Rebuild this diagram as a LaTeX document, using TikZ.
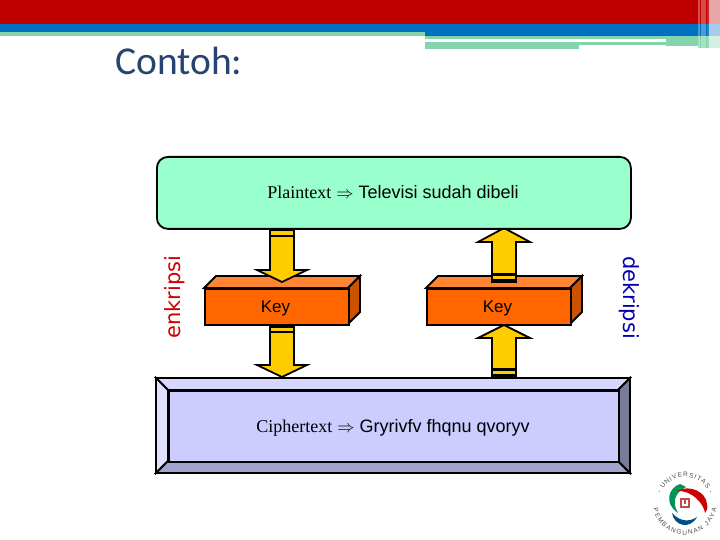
\documentclass[tikz,border=0pt]{standalone}
\usepackage{fontspec}
\setmainfont{Liberation Sans}
\newfontfamily\seriffont{Liberation Serif}
\newfontfamily\titlefont{Carlito}
\newfontfamily\labelfont{DejaVu Sans}
\usetikzlibrary{decorations.text}
\definecolor{hdrred}{HTML}{C00000}
\definecolor{hdrblue}{HTML}{0070C0}
\definecolor{hdrmint}{HTML}{85D5AC}
\definecolor{hdrteal}{HTML}{007A6A}
\definecolor{plainfill}{HTML}{99FFCC}
\definecolor{keyfront}{HTML}{FF6600}
\definecolor{keytop}{HTML}{FF8533}
\definecolor{keyside}{HTML}{CC5200}
\definecolor{arrowfill}{HTML}{FFCC00}
\definecolor{ciphermid}{HTML}{CCCCFF}
\definecolor{ciphertop}{HTML}{D6D6FF}
\definecolor{cipherleft}{HTML}{E0E0FF}
\definecolor{cipherbot}{HTML}{A3A3CC}
\definecolor{cipherright}{HTML}{7A7A99}
\definecolor{titleblue}{HTML}{254570}
\newcommand{\logotextstyle}{\fontsize{6.5}{7}\selectfont\color{black!70}}
\tikzset{
  outline/.style={draw=black,line width=1.8pt,line join=miter},
  keylabel/.style={font=\fontsize{17}{20}\selectfont,text=black,inner sep=0pt},
  boxtext/.style={font=\fontsize{18}{20}\selectfont,text=black,inner sep=0pt},
  sidelabel/.style={font=\labelfont\fontsize{21}{24}\selectfont,inner sep=0pt},
}
\newcommand{\keybox}[2]{%
  \fill[keytop,outline] (#1,288) -- (#1+12,276) -- (#1+156,276) -- (#1+144,288) -- cycle;
  \fill[keyside,outline] (#1+144,288) -- (#1+156,276) -- (#1+156,312) -- (#1+144,324) -- cycle;
  \node[fill=keyfront,outline,minimum width=144pt,minimum height=36pt,inner sep=0pt,anchor=north west] (#2) at (#1,288) {};
}
\newcommand{\downarr}[4]{%
  \fill[arrowfill,outline] (#1-12,#2) -- (#1+12,#2) -- (#1+12,#3) -- (#1+25,#3) -- (#1,#4) -- (#1-25,#3) -- (#1-12,#3) -- cycle;
  \fill[black] (#1-12.9,#2) rectangle (#1+12.9,#2+3.5);
  \fill[black] (#1-12.9,#2+7) rectangle (#1+12.9,#2+8.8);
}
\newcommand{\uparr}[4]{%
  \fill[arrowfill,outline] (#1-12,#4) -- (#1+12,#4) -- (#1+12,#3) -- (#1+26,#3) -- (#1,#2) -- (#1-26,#3) -- (#1-12,#3) -- cycle;
  \fill[black] (#1-12.9,#4) rectangle (#1+12.9,#4-3);
  \fill[black] (#1-12.9,#4-6) rectangle (#1+12.9,#4-8.8);
}
\begin{document}
\begin{tikzpicture}[x=1pt,y=-1pt]
\useasboundingbox (0,0) rectangle (720,540);
\fill[white] (0,0) rectangle (720,540);
% header
\fill[hdrred] (0,0) rectangle (720,24);
\fill[hdrblue] (0,24) rectangle (720,35);
\fill[hdrmint] (0,32) rectangle (425,36);
\fill[hdrteal] (425,35) rectangle (720,36);
\fill[hdrmint] (425,36) rectangle (720,39);
\fill[hdrmint] (425,42) rectangle (666,45.5);
\fill[hdrmint] (425,45.5) rectangle (579,49);
\fill[hdrmint] (666,39) rectangle (720,46);
\fill[hdrmint] (698,46) rectangle (720,48);
\fill[white,opacity=.3] (698,0) rectangle (700,48);
\fill[white,opacity=.3] (701,0) rectangle (706,48);
\fill[white,opacity=.15] (707,0) rectangle (709,48);
\fill[white,opacity=.65] (709,0) rectangle (720,48);
% title
\node[font=\titlefont\fontsize{39.5}{42}\selectfont,text=titleblue,anchor=base west,inner sep=0pt] (title) at (115,75) {Contoh:};
% arrows behind boxes
\downarr{282}{324}{365}{377}
\uparr{504}{325}{338}{377}
% key boxes
\keybox{204}{keyA}
\keybox{426}{keyB}
\node[keylabel] at (keyA.center) [xshift=-1.5pt,yshift=-1.5pt] {Key};
\node[keylabel] at (keyB.center) [xshift=-1.5pt,yshift=-1.5pt] {Key};
% arrows over boxes
\downarr{282}{228}{270}{282}
\uparr{504}{228}{242}{282}
% plaintext box
\node[draw=black,line width=1.8pt,fill=plainfill,rounded corners=11pt,minimum width=474pt,minimum height=72pt,inner sep=0pt,anchor=north west] (plain) at (156,156) {};
\node[boxtext] at (393,192.5) {{\seriffont Plaintext} $\Rightarrow$ Televisi sudah dibeli};
% ciphertext box
\fill[ciphertop,outline] (156,378) -- (630,378) -- (618,390) -- (168,390) -- cycle;
\fill[cipherleft,outline] (156,378) -- (168,390) -- (168,461) -- (156,473) -- cycle;
\fill[cipherbot,outline] (156,473) -- (168,461) -- (618,461) -- (630,473) -- cycle;
\fill[cipherright,outline] (630,378) -- (618,390) -- (618,461) -- (630,473) -- cycle;
\node[fill=ciphermid,outline,minimum width=450pt,minimum height=71pt,inner sep=0pt,anchor=north west] (cipher) at (168,390) {};
\node[boxtext] at (393,427.5) {{\seriffont Ciphertext} $\Rightarrow$ Gryrivfv fhqnu qvoryv};
% side labels
\node[sidelabel,text=red!80!black,rotate=90] (enk) at (175,297) {enkripsi};
\node[sidelabel,text=blue!70!black,rotate=-90] (dek) at (629,297.5) {dekripsi};
% logo
\fill[hdrteal!80!green] (680,484) .. controls (668,488) and (664,504) .. (678,513) .. controls (672,503) and (674,493) .. (686,487) -- cycle;
\fill[red!80!black] (677,491) .. controls (690,484) and (706,492) .. (707,504) .. controls (708,508) and (707,511) .. (705,513) .. controls (704,504) and (692,490) .. (677,491) -- cycle;
\fill[hdrblue!70!black] (672,513) .. controls (674,526) and (690,530) .. (697,517) .. controls (690,522) and (680,522) .. (672,513) -- cycle;
\fill[red!65!black!70] (680,498) rectangle (690,508);
\fill[white] (682,500) rectangle (688,506);
\fill[red!65!black!70] (684,500) rectangle (686,504);
\path[decorate,decoration={text along path,text={|\logotextstyle|- UNIVERSITAS -},text align={fit to path}}] (660.6,494) arc[start angle=200,end angle=340,radius=26];
\path[decorate,decoration={text along path,text={|\logotextstyle|PEMBANGUNAN JAYA},text align={fit to path}}] (653.5,508.6) arc[start angle=170,end angle=10,radius=32];
\end{tikzpicture}
\end{document}
